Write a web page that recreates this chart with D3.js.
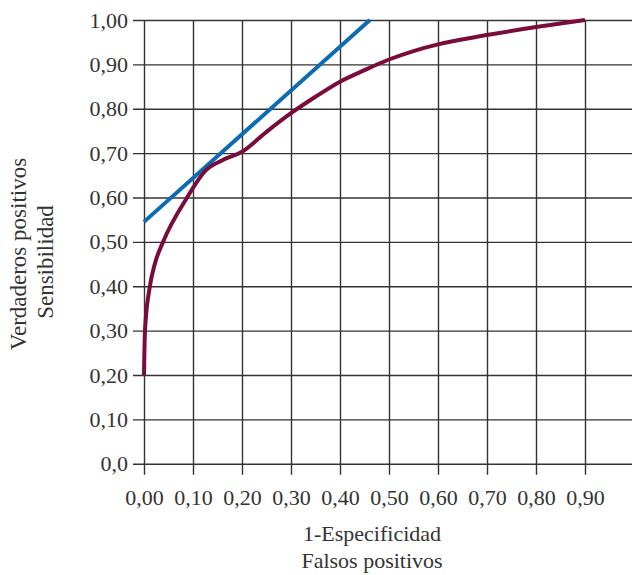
<!DOCTYPE html>
<html>
<head>
<meta charset="utf-8">
<script src="https://cdn.jsdelivr.net/npm/d3@7"></script>
<style>
  body { margin: 0; background: #fff; }
  text { font-family: "Liberation Serif", "DejaVu Serif", serif; fill: #333; }
</style>
</head>
<body>
<svg id="chart" width="632" height="575"></svg>
<script>
// values
var xTicks = [0, 0.1, 0.2, 0.3, 0.4, 0.5, 0.6, 0.7, 0.8, 0.9]
var yTicks = [0, 0.1, 0.2, 0.3, 0.4, 0.5, 0.6, 0.7, 0.8, 0.9, 1.0]
var yTickLabels = ["0,0", "0,10", "0,20", "0,30", "0,40", "0,50", "0,60", "0,70", "0,80", "0,90", "1,00"]

// ROC curve (1-especificidad, sensibilidad)
var rocX = [0, 0.002, 0.012, 0.022, 0.039, 0.088, 0.125, 0.16, 0.20, 0.25, 0.30, 0.35, 0.40, 0.45, 0.50, 0.55, 0.60, 0.70, 0.80, 0.90]
var rocY = [0.20, 0.30, 0.40, 0.45, 0.50, 0.60, 0.66, 0.684, 0.703, 0.748, 0.79, 0.827, 0.861, 0.887, 0.911, 0.930, 0.945, 0.966, 0.984, 1.00]

// straight (tangent) line
var lineX = [0, 0.461]
var lineY = [0.545, 1.00]

var svg = d3.select("#chart")
var pLeft = 144, pRight = 634, pTop = 20, pBottom = 463.7

var x = d3.scaleLinear().domain([0, 1]).range([pLeft, pRight])
var y = d3.scaleLinear().domain([0, 1]).range([pBottom, pTop])

var comma = function(d){ return d3.format(".2f")(d).replace(".", ",") }

// vertical grid (with the little ticks under the axis)
svg.append("g")
  .attr("transform", "translate(0," + pTop + ")")
  .call(d3.axisBottom(x).tickValues(xTicks.concat([1.0])).tickSize(pBottom - pTop + 11).tickFormat(""))
  .call(function(g){ g.select(".domain").remove() })
  .selectAll("line").attr("stroke", "#333").attr("stroke-width", 1.4)

// horizontal grid
svg.append("g")
  .attr("transform", "translate(" + (pLeft - 11) + ",0)")
  .call(d3.axisRight(y).tickValues(yTicks).tickSize(pRight - pLeft + 11).tickFormat(""))
  .call(function(g){ g.select(".domain").remove() })
  .selectAll("line").attr("stroke", "#333").attr("stroke-width", 1.4)

// x labels
var xa = svg.append("g")
  .attr("transform", "translate(0," + pBottom + ")")
  .call(d3.axisBottom(x).tickValues(xTicks).tickSize(11).tickPadding(15).tickFormat(comma))
xa.select(".domain").remove()
xa.selectAll("line").remove()
xa.selectAll("text").style("font-size", "22px").attr("fill", "#333")
  .style("font-family", "'Liberation Serif', serif")

// y labels
var ya = svg.append("g")
  .attr("transform", "translate(" + pLeft + ",0)")
  .call(d3.axisLeft(y).tickValues(yTicks).tickSize(11).tickPadding(5)
    .tickFormat(function(d, i){ return yTickLabels[i] }))
ya.select(".domain").remove()
ya.selectAll("line").remove()
ya.selectAll("text").style("font-size", "22px").attr("fill", "#333")
  .style("font-family", "'Liberation Serif', serif")

// axis titles
svg.append("text").attr("x", 372).attr("y", 541).attr("text-anchor", "middle")
  .style("font-size", "22px").text("1-Especificidad")
svg.append("text").attr("x", 372).attr("y", 568).attr("text-anchor", "middle")
  .style("font-size", "22px").text("Falsos positivos")

svg.append("text").attr("transform", "translate(26,254) rotate(-90)").attr("text-anchor", "middle")
  .style("font-size", "23px").text("Verdaderos positivos")
svg.append("text").attr("transform", "translate(53,262) rotate(-90)").attr("text-anchor", "middle")
  .style("font-size", "23px").text("Sensibilidad")

// lines
var lineGen = d3.line().x(function(d){ return x(d[0]) }).y(function(d){ return y(d[1]) })

svg.append("path")
  .datum(lineX.map(function(v, i){ return [v, lineY[i]] }))
  .attr("d", lineGen)
  .attr("fill", "none").attr("stroke", "#0b6cb3").attr("stroke-width", 4)

svg.append("path")
  .datum(rocX.map(function(v, i){ return [v, rocY[i]] }))
  .attr("d", lineGen.curve(d3.curveMonotoneX))
  .attr("fill", "none").attr("stroke", "#7a0c3c").attr("stroke-width", 4)
</script>
</body>
</html>
